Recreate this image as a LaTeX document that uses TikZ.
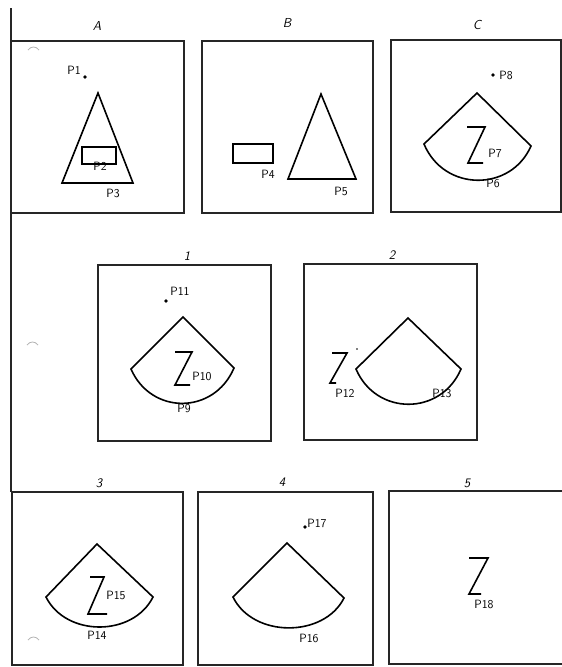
\documentclass[tikz,border=0pt]{standalone}
\usepackage{tikz}
\usetikzlibrary{calc}

\begin{document}
\begin{tikzpicture}[x=1pt, y=-1pt,
    panel/.style={line width=1.3pt, black!85},
    figline/.style={line width=1.6pt, black},
    lbl/.style={font=\sffamily\fontsize{12}{13}\selectfont, inner sep=0pt},
    hdr/.style={font=\sffamily\itshape\fontsize{13}{14}\selectfont, inner sep=0pt},
    hole/.style={gray!60, line width=0.8pt}]
    \useasboundingbox (0,0) rectangle (562,667);
    % margin line and punch-hole marks
    \draw[panel] (11,8) -- (11,492);
    \draw[hole] (28,50) .. controls (31,46) and (36,46) .. (39,50);
    \draw[hole] (27,345) .. controls (30,341) and (35,341) .. (38,345);
    \draw[hole] (28,640) .. controls (31,636) and (36,636) .. (39,640);

    % ---- panel A ----
    \draw[panel] (11,41) rectangle (184,213);
    \node[hdr] (hA) at (97,26) {A};
    \fill (85,77) circle (1.8);
    \node[lbl] (p1) at (74,70) {P1};
    \draw[figline] (98,93) -- (62,183) -- (133,183) -- cycle;
    \draw[figline] (82,147) rectangle (116,164);
    \node[lbl] (p2) at (100,166) {P2};
    \node[lbl] (p3) at (113,193) {P3};

    % ---- panel B ----
    \draw[panel] (202,41) rectangle (373,213);
    \node[hdr] (hB) at (287,23) {B};
    \draw[figline] (233,144) rectangle (273,163);
    \node[lbl] (p4) at (268,174) {P4};
    \draw[figline] (321,94) -- (288,179) -- (356,179) -- cycle;
    \node[lbl] (p5) at (341,191) {P5};

    % ---- panel C ----
    \draw[panel] (391,40) rectangle (561,212);
    \node[hdr] (hC) at (477,25) {C};
    \fill (493,75) circle (1.8);
    \node[lbl] (p8) at (506,75) {P8};
    \draw[figline] (424,144) -- (477,93) -- (531,146)
        .. controls (511,192) and (444,192) .. cycle;
    \draw[figline] (467,127) -- (485,127) -- (468,163) -- (483,163);
    \node[lbl] (p7) at (495,153) {P7};
    \node[lbl] (p6) at (493,183) {P6};

    % ---- panel 1 ----
    \draw[panel] (98,265) rectangle (271,441);
    \node[hdr] (h1) at (187,256) {1};
    \fill (166,301) circle (1.8);
    \node[lbl] (p11) at (180,291) {P11};
    \draw[figline] (131,369) -- (183,317) -- (234,368)
        .. controls (214,415) and (151,415) .. cycle;
    \draw[figline] (175,352) -- (192,352) -- (175,385) -- (190,385);
    \node[lbl] (p10) at (202,376) {P10};
    \node[lbl] (p9) at (184,408) {P9};

    % ---- panel 2 ----
    \draw[panel] (304,264) rectangle (477,440);
    \node[hdr] (h2) at (392,255) {2};
    \fill (357,349) circle (0.8);
    \draw[figline] (356,369) -- (408,318) -- (461,369)
        .. controls (441,416) and (376,416) .. cycle;
    \draw[figline] (332,353) -- (347,353) -- (330,383) -- (336,383);
    \node[lbl] (p12) at (345,393) {P12};
    \node[lbl] (p13) at (442,393) {P13};

    % ---- panel 3 ----
    \draw[panel] (12,492) rectangle (183,665);
    \node[hdr] (h3) at (99,483) {3};
    \draw[figline] (46,597) -- (97,544) -- (153,597)
        .. controls (133,637) and (66,637) .. cycle;
    \draw[figline] (90,577) -- (104,577) -- (88,614) -- (107,614);
    \node[lbl] (p15) at (116,595) {P15};
    \node[lbl] (p14) at (97,635) {P14};

    % ---- panel 4 ----
    \draw[panel] (198,492) rectangle (373,665);
    \node[hdr] (h4) at (282,482) {4};
    \fill (305,527) circle (1.8);
    \node[lbl] (p17) at (317,523) {P17};
    \draw[figline] (233,597) -- (287,543) -- (344,598)
        .. controls (324,638) and (253,638) .. cycle;
    \node[lbl] (p16) at (309,638) {P16};

    % ---- panel 5 (cut off at the right edge) ----
    \draw[panel] (563,491) -- (389,491) -- (389,664) -- (563,664);
    \node[hdr] (h5) at (467,483) {5};
    \draw[figline] (469,558) -- (488,558) -- (469,594) -- (481,594);
    \node[lbl] (p18) at (484,604) {P18};
\end{tikzpicture}
\end{document}
